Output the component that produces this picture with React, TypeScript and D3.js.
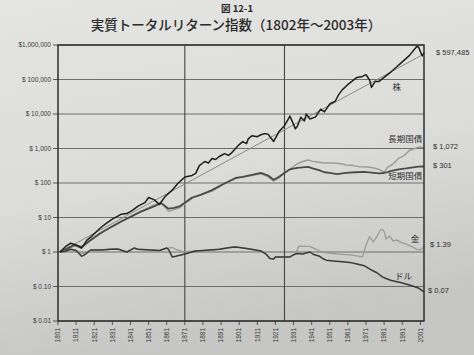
import * as d3 from 'd3';

const yearTicks = d3.range(1801, 2002, 10);
const valueTicks = [0.01, 0.1, 1, 10, 100, 1000, 10000, 100000, 1000000];
const valueTickLabels = ['$ 0.01', '$ 0.10', '$ 1', '$ 10', '$ 100', '$ 1,000', '$ 10,000', '$ 100,000', '$1,000,000'];
const dividerYears = [1871, 1926];

const stockYears = [1802, 1805, 1808, 1811, 1814, 1817, 1819, 1822, 1825, 1828, 1831, 1834, 1836, 1839, 1842, 1845, 1847, 1849, 1851, 1854, 1857, 1860, 1864, 1867, 1871, 1875, 1877, 1879, 1882, 1884, 1886, 1888, 1890, 1893, 1895, 1897, 1899, 1901, 1903, 1905, 1906, 1908, 1911, 1913, 1915, 1917, 1918, 1920, 1921, 1923, 1926, 1928, 1929, 1931, 1932, 1933, 1935, 1937, 1938, 1940, 1943, 1946, 1948, 1951, 1954, 1956, 1958, 1961, 1963, 1966, 1969, 1971, 1973, 1974, 1976, 1978, 1981, 1985, 1988, 1991, 1995, 1999, 2000, 2002, 2003];
const stockValues = [1, 1.4, 1.8, 1.6, 1.3, 2.2, 2.7, 3.8, 5.3, 7, 9, 11, 12.5, 13, 16, 21, 24, 27, 38, 33, 24, 40, 62, 95, 150, 166, 190, 320, 420, 380, 510, 480, 585, 710, 630, 760, 1000, 1300, 1590, 1380, 1900, 2350, 2200, 2500, 2700, 2600, 2200, 1600, 2000, 3100, 4600, 7000, 8700, 5000, 3700, 4300, 8100, 6300, 10000, 7200, 8100, 13800, 11500, 19500, 23400, 37000, 51000, 72000, 87000, 115000, 123000, 138000, 95000, 59000, 87000, 87000, 115000, 170000, 234000, 324000, 500000, 900000, 880000, 480000, 597485];

const trendYears = [1802, 2003];
const trendValues = [1, 550000];

const bondYears = [1802, 1806, 1810, 1814, 1819, 1824, 1830, 1836, 1842, 1847, 1853, 1858, 1862, 1865, 1868, 1872, 1875, 1880, 1886, 1892, 1899, 1903, 1908, 1913, 1917, 1920, 1923, 1926, 1929, 1932, 1936, 1939, 1941, 1944, 1948, 1953, 1957, 1960, 1964, 1968, 1972, 1975, 1978, 1981, 1983, 1986, 1989, 1992, 1995, 1998, 2000, 2003];
const bondValues = [1, 1.2, 1.5, 1.3, 2.3, 3.5, 5, 7.5, 11.6, 15, 22, 27, 15, 17, 19, 28, 36, 45, 58, 90, 135, 150, 165, 185, 150, 115, 140, 200, 250, 333, 420, 465, 430, 405, 380, 380, 360, 333, 320, 293, 290, 275, 250, 210, 290, 360, 520, 620, 890, 1000, 1090, 1072];

const billYears = [1802, 1806, 1810, 1814, 1819, 1824, 1830, 1836, 1842, 1847, 1853, 1858, 1862, 1865, 1868, 1872, 1875, 1880, 1886, 1892, 1899, 1903, 1908, 1913, 1917, 1920, 1923, 1926, 1929, 1933, 1936, 1939, 1942, 1945, 1948, 1951, 1955, 1960, 1965, 1970, 1974, 1978, 1981, 1985, 1989, 1993, 1997, 2000, 2003];
const billValues = [1, 1.25, 1.6, 1.4, 2.2, 3.4, 5.2, 7.8, 11, 15, 20, 26, 18, 19, 21, 29, 38, 46, 62, 92, 140, 151, 173, 196, 165, 124, 151, 196, 250, 275, 285, 293, 260, 235, 205, 196, 180, 196, 205, 210, 200, 190, 195, 225, 250, 265, 285, 300, 301];

const goldYears = [1802, 1805, 1808, 1811, 1814, 1816, 1819, 1825, 1830, 1834, 1839, 1843, 1845, 1852, 1857, 1861, 1862, 1864, 1866, 1871, 1877, 1883, 1890, 1896, 1899, 1906, 1910, 1913, 1916, 1918, 1920, 1921, 1925, 1929, 1932, 1934, 1936, 1940, 1942, 1945, 1947, 1949, 1953, 1958, 1962, 1966, 1969, 1971, 1973, 1975, 1977, 1979, 1980, 1981, 1982, 1984, 1986, 1988, 1990, 1993, 1996, 1999, 2001, 2003];
const goldValues = [1, 1.05, 1.2, 1.1, 0.9, 0.95, 1.14, 1.15, 1.2, 1.22, 1.0, 1.3, 1.2, 1.15, 1.1, 1.3, 1.3, 1.35, 1.2, 1.0, 1.1, 1.12, 1.2, 1.35, 1.4, 1.25, 1.15, 1.07, 0.85, 0.65, 0.63, 0.72, 0.72, 0.72, 0.88, 1.48, 1.45, 1.45, 1.3, 1.1, 1.0, 0.95, 0.9, 0.85, 0.82, 0.77, 0.72, 1.6, 2.8, 1.95, 2.8, 4.4, 4.5, 3.9, 2.4, 2.9, 2.1, 2.2, 1.93, 1.69, 1.45, 1.2, 1.15, 1.39];

const dollarYears = [1802, 1805, 1808, 1811, 1814, 1816, 1819, 1825, 1830, 1834, 1839, 1843, 1845, 1852, 1857, 1861, 1862, 1864, 1866, 1871, 1877, 1883, 1890, 1896, 1899, 1906, 1910, 1913, 1916, 1918, 1920, 1921, 1925, 1929, 1932, 1933, 1936, 1940, 1942, 1945, 1947, 1949, 1953, 1958, 1962, 1966, 1970, 1974, 1977, 1980, 1982, 1985, 1990, 1995, 2000, 2003];
const dollarValues = [1, 1.05, 1.2, 1.1, 0.75, 0.85, 1.14, 1.15, 1.2, 1.22, 1.0, 1.3, 1.2, 1.15, 1.1, 1.3, 1.2, 0.72, 0.75, 0.88, 1.07, 1.12, 1.2, 1.35, 1.4, 1.25, 1.15, 1.07, 0.85, 0.65, 0.63, 0.72, 0.72, 0.72, 0.88, 0.9, 0.88, 1.0, 0.85, 0.77, 0.65, 0.58, 0.55, 0.52, 0.5, 0.45, 0.4, 0.3, 0.25, 0.19, 0.17, 0.15, 0.13, 0.11, 0.09, 0.07];

const W = 474;
const H = 355;
const left = 58;
const right = 424;
const top = 45;
const bottom = 321;

const x = d3.scaleLinear().domain([1801, 2003]).range([left, right]);
const y = d3.scaleLog().domain([0.01, 1000000]).range([bottom, top]);

const toPath = (years: number[], values: number[]) =>
  d3.line<number>()
    .x((_, i) => x(years[i]))
    .y((v) => y(v))(values) || '';

const series = [
  { years: trendYears, values: trendValues, color: '#8a8a8a', width: 1 },
  { years: bondYears, values: bondValues, color: '#9a9a9a', width: 1.4 },
  { years: billYears, values: billValues, color: '#4a4a4a', width: 1.8 },
  { years: goldYears, values: goldValues, color: '#9a9a9a', width: 1.3 },
  { years: dollarYears, values: dollarValues, color: '#3a3a3a', width: 1.5 },
  { years: stockYears, values: stockValues, color: '#1e1e1e', width: 1.5 },
];

// right-hand end values
const endLabels = [
  { text: '$ 597,485', v: 597485, dy: 0, dx: 12 },
  { text: '$ 1,072', v: 1072, dy: -1, dx: 9 },
  { text: '$ 301', v: 301, dy: -1, dx: 9 },
  { text: '$ 1.39', v: 1.39, dy: -3, dx: 6 },
  { text: '$ 0.07', v: 0.07, dy: -1, dx: 4 },
];

// series names, placed by year/value, anchored as given
const seriesLabels = [
  { text: '株', year: 1988, v: 50000, anchor: 'middle' },
  { text: '長期国債', year: 2002, v: 1500, anchor: 'end' },
  { text: '短期国債', year: 2002, v: 135, anchor: 'end' },
  { text: '金', year: 1998, v: 1.95, anchor: 'middle' },
  { text: 'ドル', year: 1987, v: 0.166, anchor: 'start' },
];

const sans = '"Liberation Sans", Arial, sans-serif';
const cjk = '"Noto Sans CJK JP", "Noto Sans", sans-serif';

export default function App() {
  return (
    <div style={{ position: 'fixed', left: 0, top: 0 }}>
      <svg width={W} height={H} style={{ display: 'block' }}>
        <defs>
          <linearGradient id="paper" x1="0" y1="0" x2="0.25" y2="1">
            <stop offset="0%" stopColor="#e4e4e2" />
            <stop offset="55%" stopColor="#dcdcda" />
            <stop offset="100%" stopColor="#c6c6c4" />
          </linearGradient>
        </defs>
        <rect width={W} height={H} fill="url(#paper)" />

        <text x={W / 2} y={12} textAnchor="middle" fontFamily={cjk} fontSize={9.5} fontWeight={700} fill="#2a2a2a">
          図 12-1
        </text>
        <text x={236} y={30} textAnchor="middle" fontFamily={cjk} fontSize={13.5} fontWeight={500} fill="#2a2a2a">
          実質トータルリターン指数（1802年～2003年）
        </text>

        {/* horizontal grid + y ticks */}
        {valueTicks.map((v, i) => (
          <g key={v}>
            <line x1={left} x2={right} y1={y(v)} y2={y(v)} stroke="#6e6e6e" strokeWidth={1} />
            <line x1={left - 5} x2={left} y1={y(v)} y2={y(v)} stroke="#555" strokeWidth={1} />
            <text x={left - 7} y={y(v) + 2.3} textAnchor="end" fontFamily={sans} fontSize={6.5} fill="#3a3a3a">
              {valueTickLabels[i]}
            </text>
          </g>
        ))}

        {dividerYears.map((yr) => (
          <line key={yr} x1={x(yr)} x2={x(yr)} y1={top} y2={bottom} stroke="#444" strokeWidth={1.1} />
        ))}

        {/* x ticks */}
        {yearTicks.map((yr) => (
          <g key={yr}>
            <line x1={x(yr)} x2={x(yr)} y1={bottom} y2={bottom + 4} stroke="#555" strokeWidth={1} />
            <text
              transform={`translate(${x(yr) + 2.3},${bottom + 7}) rotate(-90)`}
              textAnchor="end"
              fontFamily={sans}
              fontSize={6.5}
              fill="#3a3a3a"
            >
              {yr}
            </text>
          </g>
        ))}

        {series.map((s, i) => (
          <path key={i} d={toPath(s.years, s.values)} fill="none" stroke={s.color} strokeWidth={s.width} strokeLinejoin="round" />
        ))}

        <rect x={left} y={top} width={right - left} height={bottom - top} fill="none" stroke="#2e2e2e" strokeWidth={1.5} />

        {endLabels.map((l) => (
          <text key={l.text} x={right + l.dx} y={y(l.v) + 2.5 + l.dy} fontFamily={sans} fontSize={7.5} fill="#2e2e2e">
            {l.text}
          </text>
        ))}

        {seriesLabels.map((l) => (
          <text key={l.text} x={x(l.year)} y={y(l.v)} textAnchor={l.anchor} fontFamily={cjk} fontSize={8.5} fill="#2e2e2e">
            {l.text}
          </text>
        ))}
      </svg>
    </div>
  );
}
